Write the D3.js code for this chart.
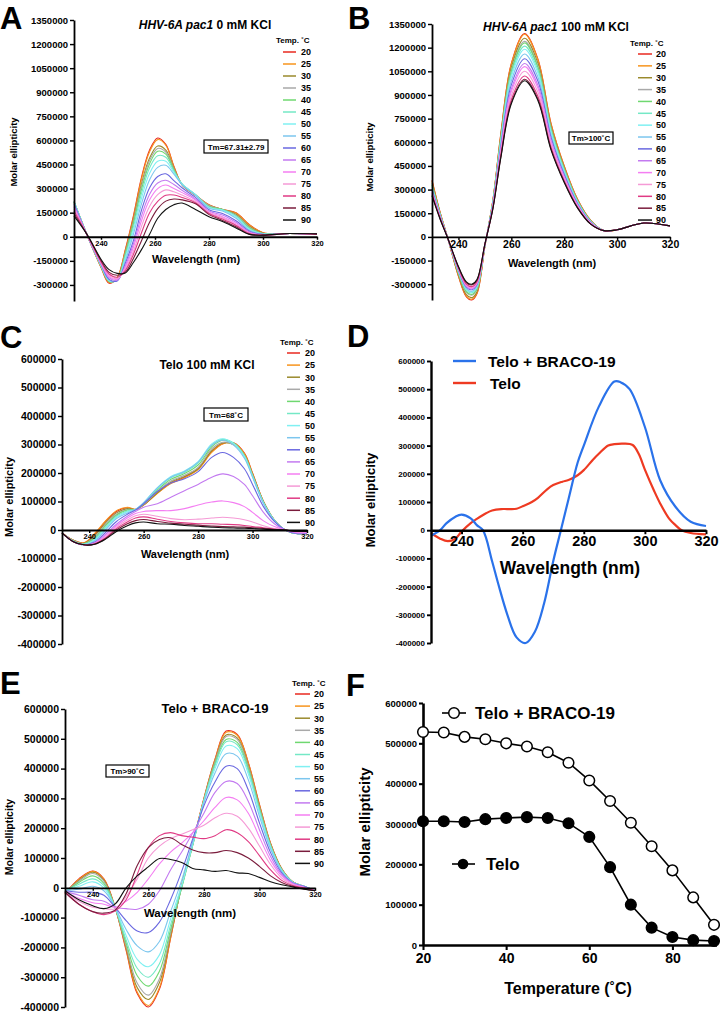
<!DOCTYPE html>
<html><head><meta charset="utf-8">
<script src="https://cdn.jsdelivr.net/npm/d3@7"></script>
<style>
body{margin:0;background:#fff}
svg text{font-family:"Liberation Sans",Arial,Helvetica,sans-serif;font-weight:bold;fill:#000}
</style></head><body>
<svg id="fig" width="720" height="1012"></svg>
<script>
// ---------------- DATA ----------------
const temps = ["20","25","30","35","40","45","50","55","60","65","70","75","80","85","90"];
const tempColors = ["#e8281f","#f7941d","#9a8a2c","#a9a9a9","#6fd870","#74e8c6","#80f0f2","#7cc6ee","#6a68e0","#c37af0","#f47ef2","#f59ad6","#e03a84","#7a1c3c","#111111"];

// Panel A: HHV-6A pac1 0 mM KCl (values in thousands)
const A_wl = [230,235,240,243,246,249,252,255,258,261,264,267,270,275,280,285,290,295,300,310,320];
const A_values = [
 [220,5,-190,-290,-255,-80,130,370,540,615,575,440,325,260,200,170,150,75,25,20,15],
 [215,5,-190,-285,-255,-85,120,360,530,605,570,435,325,258,198,170,148,73,25,20,15],
 [215,5,-185,-280,-260,-95,105,330,490,565,540,425,325,258,195,170,140,65,22,20,15],
 [215,5,-185,-278,-262,-100,95,315,475,550,528,420,325,260,195,170,135,60,20,20,15],
 [220,5,-180,-278,-265,-110,80,295,455,532,515,415,330,262,188,170,130,55,20,20,15],
 [220,5,-180,-275,-268,-120,60,270,430,505,495,410,330,262,185,168,128,50,18,20,15],
 [220,5,-178,-272,-270,-135,40,240,395,470,470,400,330,262,182,165,125,45,18,20,15],
 [215,5,-175,-270,-272,-150,15,205,355,432,445,390,325,258,178,160,115,40,16,20,15],
 [205,5,-170,-265,-275,-165,-25,165,305,375,392,350,305,245,168,145,100,35,15,20,15],
 [195,5,-168,-255,-270,-180,-45,130,265,335,352,325,290,235,160,135,90,30,12,20,15],
 [185,5,-165,-248,-265,-190,-65,100,230,300,322,300,275,228,155,125,82,25,12,20,15],
 [175,5,-160,-240,-260,-200,-90,65,190,262,292,280,260,220,150,118,75,22,10,20,15],
 [160,8,-155,-232,-252,-210,-110,25,150,220,258,260,245,212,145,110,70,20,10,20,15],
 [145,8,-148,-222,-240,-220,-135,-25,90,175,222,235,230,205,138,102,62,15,10,20,18],
 [130,10,-140,-205,-228,-225,-160,-80,15,115,170,200,210,170,125,95,55,15,10,20,18]
];

// Panel B: HHV-6A pac1 100 mM KCl (thousands)
const B_wl = [230,233,236,240,243,245,247,250,253,256,260,265,270,275,280,285,290,295,300,310,320];
const B_values = [
 [360,160,-10,-250,-380,-400,-360,-60,230,650,1100,1290,1130,720,450,240,105,40,45,88,70],
 [355,158,-10,-247,-375,-395,-356,-59,229,647,1096,1285,1126,717,448,239,105,40,45,88,70],
 [345,155,-10,-241,-366,-385,-347,-58,225,635,1075,1260,1104,703,440,234,103,40,45,88,70],
 [335,150,-10,-231,-352,-370,-333,-56,221,625,1057,1240,1086,692,432,231,101,40,45,88,70],
 [330,148,-10,-228,-347,-365,-329,-55,219,620,1049,1230,1077,686,429,229,100,40,45,88,70],
 [320,145,-10,-222,-337,-355,-320,-53,216,610,1032,1210,1060,675,422,225,98,40,45,88,70],
 [315,142,-10,-219,-333,-350,-315,-52,212,600,1015,1190,1042,664,415,221,97,40,45,88,70],
 [305,138,-10,-216,-328,-345,-311,-52,207,585,989,1160,1016,647,405,216,94,40,45,88,70],
 [300,135,-10,-209,-318,-335,-302,-50,201,569,964,1130,990,631,394,210,92,40,45,88,70],
 [290,130,-10,-206,-314,-330,-297,-50,196,554,938,1100,964,614,384,205,90,40,45,88,70],
 [285,128,-10,-203,-309,-325,-293,-49,193,544,921,1080,946,603,377,201,88,40,45,88,70],
 [280,125,-10,-200,-304,-320,-288,-48,187,529,895,1050,920,586,366,195,85,40,45,88,70],
 [275,122,-10,-197,-299,-315,-284,-47,182,514,870,1020,894,569,356,190,83,40,45,88,70],
 [265,118,-10,-191,-290,-305,-275,-46,178,504,853,1000,876,558,349,186,81,40,45,88,70],
 [260,115,-10,-188,-285,-300,-270,-45,176,499,844,990,867,552,345,184,81,40,45,88,70]
];

// Panel C: Telo 100 mM KCl (thousands)
const C_wl = [230,234,238,242,246,250,254,257,260,265,270,275,280,285,289,293,297,300,304,308,312,316,320];
const C_values = [
 [-10,-35,-45,-15,30,65,78,72,88,130,165,185,215,275,303,306,270,200,100,35,0,-12,-12],
 [-10,-35,-45,-12,32,68,80,73,88,128,163,183,212,272,302,305,268,198,100,35,0,-12,-12],
 [-10,-35,-47,-20,25,60,75,72,88,130,168,188,215,278,305,300,262,195,100,35,0,-12,-12],
 [-10,-36,-48,-25,20,55,72,72,90,135,172,192,220,285,308,300,260,192,98,35,0,-12,-12],
 [-10,-38,-48,-28,15,52,70,72,92,140,178,198,228,292,315,305,262,192,98,35,0,-12,-12],
 [-10,-38,-50,-32,10,48,67,72,94,145,183,203,235,298,318,305,260,190,96,34,0,-12,-12],
 [-10,-40,-50,-35,5,44,64,72,96,148,188,207,240,302,320,303,258,188,95,34,0,-12,-12],
 [-10,-40,-52,-38,0,40,60,72,96,148,185,205,238,298,315,298,252,185,93,33,0,-12,-12],
 [-10,-40,-52,-42,-8,30,55,70,92,135,165,180,205,255,272,255,215,160,82,30,0,-12,-12],
 [-10,-40,-52,-45,-15,20,48,65,80,92,115,138,160,185,197,188,160,120,62,22,0,-10,-10],
 [-10,-40,-52,-48,-20,15,42,58,65,68,68,75,88,98,102,96,82,62,32,12,0,-8,-8],
 [-10,-40,-52,-48,-25,10,35,50,55,48,40,36,38,42,45,42,36,28,15,5,0,-6,-6],
 [-10,-40,-52,-48,-28,5,28,42,46,38,30,25,22,22,20,19,16,12,8,3,0,-5,-5],
 [-10,-40,-52,-50,-30,0,22,33,37,30,24,20,17,14,12,11,10,8,5,2,0,-5,-5],
 [-10,-40,-52,-50,-32,-5,15,25,28,22,20,16,13,10,8,7,6,5,3,1,0,-5,-5]
];

// Panel D: Telo vs Telo + BRACO-19 (thousands)
const D_bracoWl = [230,233,235,238,240,243,245,247,250,252,255,258,261,264,267,270,272.5,275,278,280,285,290,292,295,300,305,310,315,320];
const D_braco = [-20,0,24,48,55,42,18,0,-110,-190,-300,-380,-400,-360,-260,-110,0,110,240,300,440,527,525,500,366,177,83,30,15];
const D_teloWl = [230,233,235.5,238,240,243,245,248,250,253,255,258,260,263,265,268,270,273,275,278,280,283,285,288,290,293,296,298,300,303,305,308,310,312,315,320];
const D_telo = [-10,-30,-39,-30,-5,25,40,60,70,75,75,76,85,100,115,145,160,172,178,195,213,250,272,300,305,307,302,270,215,140,95,40,18,0,-10,-15];

// Panel E: Telo + BRACO-19 melting (thousands)
const E_wl = [230,235,240,244,248,252,256,260,264,268,272,276,280,284,288,292,296,300,304,308,312,316,320];
const E_values = [
 [-20,30,56,30,-65,-210,-355,-400,-340,-170,10,150,300,432,526,515,420,280,150,65,20,5,-10],
 [-20,28,55,28,-65,-205,-350,-395,-335,-168,8,148,298,430,522,512,418,278,149,64,20,5,-10],
 [-18,25,52,25,-65,-200,-335,-375,-318,-160,5,146,296,425,513,503,410,273,146,63,20,5,-10],
 [-15,22,48,22,-65,-195,-320,-360,-305,-152,2,145,295,422,508,498,406,270,145,62,20,5,-10],
 [-15,18,40,15,-65,-185,-295,-330,-280,-140,0,143,293,415,498,488,398,265,142,61,19,5,-10],
 [-12,12,30,8,-65,-175,-270,-300,-255,-125,3,145,292,410,490,480,392,260,140,60,19,5,-10],
 [-10,5,20,0,-65,-160,-240,-265,-225,-105,10,148,290,400,476,467,382,253,136,58,18,5,-10],
 [-10,-5,5,-10,-65,-140,-195,-215,-180,-80,25,155,285,385,450,442,362,240,130,55,18,5,-10],
 [-10,-15,-15,-25,-65,-110,-145,-150,-115,-40,55,165,275,355,408,400,328,218,118,50,16,5,-10],
 [-12,-25,-40,-45,-65,-70,-72,-55,-10,60,120,185,250,320,357,350,290,195,105,45,15,3,-10],
 [-15,-35,-50,-55,-65,-45,-15,30,80,120,150,185,225,270,303,295,250,170,92,40,13,2,-10],
 [-15,-45,-65,-70,-70,-30,30,100,140,165,180,195,210,235,250,240,200,140,78,33,10,0,-10],
 [-15,-55,-80,-90,-78,-40,45,135,175,185,175,170,165,175,195,185,155,108,60,25,8,0,-10],
 [-15,-55,-80,-85,-75,-20,75,135,162,168,145,127,118,118,125,118,100,72,40,18,5,-3,-10],
 [-10,-40,-60,-70,-55,0,40,70,98,95,85,65,60,55,58,50,48,35,20,10,3,-5,-10]
];

// Panel F: molar ellipticity vs temperature
const F_temps = [20,25,30,35,40,45,50,55,60,65,70,75,80,85,90];
const F_braco = [528000,527000,516000,510000,500000,492000,478000,452000,408000,357000,303000,245000,185000,118000,50000];
const F_telo = [307000,307000,305000,312000,315000,317000,315000,302000,268000,193000,100000,43000,20000,12000,10000];

const ticksAB = [1350000,1200000,1050000,900000,750000,600000,450000,300000,150000,0,-150000,-300000];
const ticksCDE = [600000,500000,400000,300000,200000,100000,0,-100000,-200000,-300000,-400000];
const ticksF = [0,100000,200000,300000,400000,500000,600000];
const wlTicks = [240,260,280,300,320];
const tempTicks = [20,40,60,80];

// ---------------- DRAWING ----------------
const svg = d3.select("#fig");
const fmt = d => String(d);

function txt(g, x, y, s, size, anchor) {
  return g.append("text").attr("x", x).attr("y", y).attr("font-size", size)
    .attr("text-anchor", anchor || "start").text(s);
}
function vtxt(g, x, y, s, size) {
  return g.append("text").attr("transform", `translate(${x},${y}) rotate(-90)`)
    .attr("font-size", size).attr("text-anchor", "middle").attr("dominant-baseline", "central").text(s);
}
function styleAxis(sel, w, fs) {
  sel.select(".domain").attr("stroke", "#000").attr("stroke-width", w);
  sel.selectAll(".tick line").attr("stroke", "#000").attr("stroke-width", w * 0.8);
  sel.selectAll(".tick text").attr("font-size", fs).attr("fill", "#000")
     .attr("font-family", "Liberation Sans, Arial, sans-serif").attr("font-weight", "bold");
}

function spectra(p) {
  const g = svg.append("g");
  const x = d3.scaleLinear().domain([230, 320]).range(p.xr);
  const y = d3.scaleLinear().domain([-400000, p.yMax]).range(p.yr);
  const line = d3.line().curve(d3.curveCatmullRom.alpha(0.5));
  p.vals.forEach((row, k) => {
    const pts = row.map((v, i) => [x(p.wl[i]), y(v * 1000)]);
    g.append("path").attr("d", line(pts)).attr("fill", "none")
      .attr("stroke", tempColors[k]).attr("stroke-width", p.lw || 1.1);
  });
  const ya = g.append("g").attr("transform", `translate(${p.xr[0]},0)`)
    .call(d3.axisLeft(y).tickValues(p.yTicks).tickFormat(fmt).tickSize(4).tickSizeOuter(0).tickPadding(2));
  styleAxis(ya, p.aw, p.yfs);
  const xa = g.append("g").attr("transform", `translate(0,${y(0)})`)
    .call(d3.axisBottom(x).tickValues(wlTicks).tickFormat(fmt).tickSize(3).tickSizeOuter(0).tickPadding(1));
  styleAxis(xa, p.aw, p.xfs);
  xa.selectAll(".tick text").attr("fill", "#333");
  if (p.title) {
    const t = txt(g, p.title.x, p.title.y, "", p.title.size, "middle");
    p.title.parts.forEach(pt => t.append("tspan").attr("font-style", pt.it ? "italic" : "normal").text(pt.s));
  }
  g.append("rect").attr("x", p.tm.x).attr("y", p.tm.y).attr("width", p.tm.w).attr("height", p.tm.h)
    .attr("fill", "#fff").attr("stroke", "#000").attr("stroke-width", 1.2);
  txt(g, p.tm.x + p.tm.w / 2, p.tm.y + p.tm.h / 2 + 3, p.tm.s, 8, "middle");
  const L = p.leg;
  txt(g, L.tx, L.ty + 3, "Temp. ˚C", 8, "start");
  temps.forEach((t, k) => {
    const yy = L.y0 + k * L.step;
    g.append("line").attr("x1", L.l0).attr("x2", L.l1).attr("y1", yy).attr("y2", yy)
      .attr("stroke", tempColors[k]).attr("stroke-width", 1.5);
    txt(g, L.lx, yy + 3.3, t, 9, "start");
  });
  txt(g, p.xl.x, p.xl.y, "Wavelength (nm)", p.xl.size, "middle");
  vtxt(g, p.yl.x, p.yl.y, "Molar ellipticity", p.yl.size);
}

// Panel A
spectra({xr:[74,317], yr:[301,20], yMax:1350000, yTicks:ticksAB, wl:A_wl, vals:A_values, aw:1.8, yfs:9.5, xfs:7.5,
  title:{x:205, y:29, size:12, parts:[{s:"HHV-6A pac1", it:true},{s:" 0 mM KCl"}]},
  tm:{x:204, y:140, w:64, h:13, s:"Tm=67.31±2.79"},
  leg:{tx:276, ty:40, y0:52, step:12, l0:283, l1:296, lx:301},
  xl:{x:196, y:263, size:11}, yl:{x:13, y:152, size:9.5}});

// Panel B
spectra({xr:[432,670], yr:[300,24], yMax:1350000, yTicks:ticksAB, wl:B_wl, vals:B_values, aw:1.8, yfs:9.5, xfs:10.5,
  title:{x:556, y:31, size:12, parts:[{s:"HHV-6A pac1", it:true},{s:" 100 mM KCl"}]},
  tm:{x:569, y:132, w:44, h:12, s:"Tm>100˚C"},
  leg:{tx:630, ty:43, y0:54, step:11.86, l0:638, l1:652, lx:656},
  xl:{x:552, y:267, size:11}, yl:{x:369, y:157, size:9.5}});

// Panel C
spectra({xr:[62,307], yr:[644,359], yMax:600000, yTicks:ticksCDE, wl:C_wl, vals:C_values, aw:1.8, yfs:10.5, xfs:7.5,
  title:{x:207, y:369, size:12, parts:[{s:"Telo 100 mM KCl"}]},
  tm:{x:204, y:408, w:44, h:13, s:"Tm=68˚C"},
  leg:{tx:280, ty:342, y0:353, step:12.1, l0:287, l1:300, lx:305},
  xl:{x:185, y:558, size:11}, yl:{x:9, y:497, size:11}});

// Panel E
spectra({xr:[65,315], yr:[1007,709], yMax:600000, yTicks:ticksCDE, wl:E_wl, vals:E_values, aw:1.8, yfs:10.5, xfs:7.5,
  title:{x:215, y:713, size:13, parts:[{s:"Telo + BRACO-19"}]},
  tm:{x:106, y:765, w:43, h:12, s:"Tm>90˚C"},
  leg:{tx:292, ty:683, y0:694, step:12.1, l0:295, l1:310, lx:314},
  xl:{x:190, y:917, size:11.5}, yl:{x:9, y:837, size:10.5}});

// Panel D
(function(){
  const g = svg.append("g");
  const x = d3.scaleLinear().domain([230, 320]).range([431, 706]);
  const y = d3.scaleLinear().domain([-400000, 600000]).range([643, 361]);
  const line = d3.line().curve(d3.curveCatmullRom.alpha(0.5));
  g.append("path").attr("d", line(D_telo.map((v,i)=>[x(D_teloWl[i]), y(v*1000)])))
    .attr("fill","none").attr("stroke","#ee3a22").attr("stroke-width",2.2);
  g.append("path").attr("d", line(D_braco.map((v,i)=>[x(D_bracoWl[i]), y(v*1000)])))
    .attr("fill","none").attr("stroke","#2a72ea").attr("stroke-width",2.2);
  const ya = g.append("g").attr("transform","translate(431,0)")
    .call(d3.axisLeft(y).tickValues(ticksCDE).tickFormat(fmt).tickSize(4).tickSizeOuter(0).tickPadding(2));
  styleAxis(ya, 2.4, 8);
  const xa = g.append("g").attr("transform",`translate(0,${y(0)})`)
    .call(d3.axisBottom(x).tickValues(wlTicks).tickFormat(fmt).tickSize(4).tickSizeOuter(0).tickPadding(2));
  styleAxis(xa, 2.4, 14.5);
  txt(g, 570, 574, "Wavelength (nm)", 17.5, "middle");
  vtxt(g, 370, 500, "Molar ellipticity", 13);
  g.append("line").attr("x1",453).attr("x2",476).attr("y1",361).attr("y2",361).attr("stroke","#2a72ea").attr("stroke-width",2.4);
  txt(g, 488, 367, "Telo + BRACO-19", 15.5);
  g.append("line").attr("x1",453).attr("x2",476).attr("y1",383).attr("y2",383).attr("stroke","#ee3a22").attr("stroke-width",2.4);
  txt(g, 490, 389, "Telo", 15.5);
})();

// Panel F
(function(){
  const g = svg.append("g");
  const x = d3.scaleLinear().domain([20, 90]).range([423, 714]);
  const y = d3.scaleLinear().domain([0, 600000]).range([945, 703]);
  const line = d3.line().x((d,i)=>x(F_temps[i])).y(d=>y(d));
  g.append("path").attr("d", line(F_braco)).attr("fill","none").attr("stroke","#000").attr("stroke-width",1.6);
  g.append("path").attr("d", line(F_telo)).attr("fill","none").attr("stroke","#000").attr("stroke-width",1.6);
  const ya = g.append("g").attr("transform","translate(423,0)")
    .call(d3.axisLeft(y).tickValues(ticksF).tickFormat(fmt).tickSize(4).tickSizeOuter(0).tickPadding(2));
  styleAxis(ya, 2.6, 9.5);
  const xa = g.append("g").attr("transform","translate(0,945)")
    .call(d3.axisBottom(x).tickValues(tempTicks).tickFormat(fmt).tickSize(5).tickSizeOuter(0).tickPadding(3));
  styleAxis(xa, 2.6, 14);
  xa.select(".domain").attr("d", "M423,0.5H717");
  g.selectAll("circle.b").data(F_braco).join("circle").attr("class","b")
    .attr("cx",(d,i)=>x(F_temps[i])).attr("cy",d=>y(d)).attr("r",5.3)
    .attr("fill","#fff").attr("stroke","#000").attr("stroke-width",1.5);
  g.selectAll("circle.t").data(F_telo).join("circle").attr("class","t")
    .attr("cx",(d,i)=>x(F_temps[i])).attr("cy",d=>y(d)).attr("r",5.3)
    .attr("fill","#000").attr("stroke","#000").attr("stroke-width",1.5);
  g.append("line").attr("x1",442).attr("x2",466).attr("y1",713).attr("y2",713).attr("stroke","#000").attr("stroke-width",1.6);
  g.append("circle").attr("cx",454).attr("cy",713).attr("r",5.3).attr("fill","#fff").attr("stroke","#000").attr("stroke-width",1.5);
  txt(g, 475, 719, "Telo + BRACO-19", 17);
  g.append("line").attr("x1",452).attr("x2",475).attr("y1",864).attr("y2",864).attr("stroke","#000").attr("stroke-width",1.6);
  g.append("circle").attr("cx",463).attr("cy",864).attr("r",5.3).attr("fill","#000");
  txt(g, 486, 870, "Telo", 17);
  txt(g, 568, 994, "Temperature (˚C)", 16, "middle");
  vtxt(g, 364, 822, "Molar ellipticity", 15);
})();

// Panel letters
[["A",0,29],["B",348,29],["C",0,348],["D",347,347],["E",0,694],["F",346,696]].forEach(([s,x,y]) => {
  txt(svg, x, y, s, 31, "start");
});
</script>
</body></html>
